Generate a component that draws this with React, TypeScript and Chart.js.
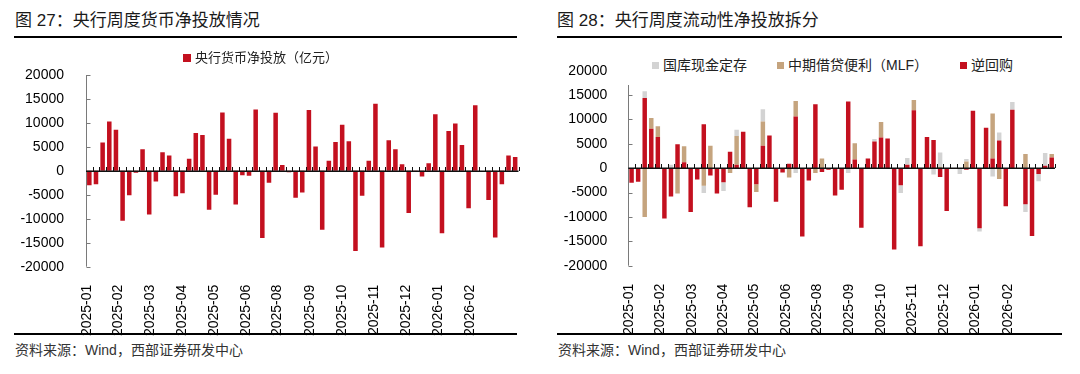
import React, { useEffect, useRef } from 'react';
import { Chart, registerables } from 'chart.js';

Chart.register(...registerables);

// ---------- data ----------
// weekly categories (Fridays from 2025-01-03), 65 weeks
const weekStart = new Date(Date.UTC(2025, 0, 3));
const categories: string[] = Array.from({ length: 65 }, (_, i) => {
  const d = new Date(weekStart.getTime() + i * 7 * 86400000);
  return d.toISOString().slice(0, 10);
});

const tickLabels = ['2025-01', '2025-02', '2025-03', '2025-04', '2025-05', '2025-06', '2025-08', '2025-09', '2025-10', '2025-11', '2025-12', '2026-01', '2026-02'];
// category position (in weeks) of each tick label
const tickAt = [-0.3, 4.4, 9.2, 14.0, 18.7, 23.5, 28.3, 33.2, 38.0, 42.8, 47.6, 52.4, 57.3];

const yTicks = { min: -20000, max: 20000, step: 5000 };

// Chart 27: weekly net injection (亿元)
const netValues = [
  -3000, -2800, 5900, 10300, 8600, -10400, -5100, -400, 4500, -9100,
  -2200, 3900, 3200, -5300, -4700, 2500, 7900, 7500, -8100, -5000,
  12200, 6700, -7000, -900, -1000, 12800, -14000, -2500, 12100, 1200,
  -300, -5600, -4500, 12700, 5100, -12300, 2100, 6000, 9600, 6200,
  -16700, -5200, 2100, 14000, -16000, 6400, 4500, 1400, -8800, -100,
  -1200, 1600, 11800, -13000, 8300, 9900, 5400, -7800, 13700, 0,
  -6100, -13900, -2800, 3200, 2900,
];

// Chart 28: breakdown
const repoValues = [
  -3000, -2800, 14400, 8100, 6400, -10300, -5800, 4900, 1200, -9000,
  -2300, 9000, -1500, -5200, -2900, 3400, 700, 7500, -8000, -3300,
  4600, 6700, -6900, -900, 900, 10600, -14000, -2500, 13100, -800,
  -300, -5600, -4400, 13700, 1800, -12200, 2000, 5500, 6300, 6100,
  -16700, -3500, 700, 11900, -16000, 6400, 5800, -1800, -8800, -100,
  0, -300, 11800, -12300, 8300, 2000, 5700, -7800, 12000, 0,
  -7400, -13900, -1200, 500, 2200,
];
const mlfValues = [
  0, 0, -10000, 2200, 2200, 0, 0, -5200, 3300, 0,
  0, -3600, 4600, 0, 0, -1000, 5900, 0, 0, -1600,
  5000, 0, 0, 0, -1900, 3200, 0, 0, -1000, 2000,
  0, 0, 0, 0, 3300, 0, 0, 0, 3200, 0,
  0, 0, 0, 2100, 0, 0, 0, 300, 0, 0,
  0, 1400, 0, 0, 0, 9200, -2200, 0, 0, 0,
  2900, 0, 0, 0, 700,
];
const depositValues = [
  0, 0, 1400, 0, 0, 0, 700, 0, 0, 0,
  0, -1500, 0, 0, -1800, 0, 1300, 0, 0, 0,
  2500, 0, 0, 0, 0, -1000, 0, 0, 0, 0,
  0, 0, 0, -1000, 0, 0, 0, 500, 0, 0,
  0, -1600, 1400, 0, 0, 0, -1300, 2900, 0, 0,
  -1200, 500, 0, -700, 0, -1700, 1600, 0, 1600, 0,
  -1600, 0, -1500, 2600, 0,
];

const RED = '#C3101F';
const TAN = '#C5A47E';
const GREY = '#D3D3D3';
const FONT = '"Liberation Sans", Arial, "Noto Sans CJK SC", sans-serif';

// ---------- plugin: axis line, inner ticks, zero line with category ticks ----------
const axisDecor = {
  id: 'axisDecor',
  afterDatasetsDraw(chart: any) {
    const { ctx, chartArea: a, scales } = chart;
    const x = scales.x;
    const y = scales.y;
    const y0 = Math.round(y.getPixelForValue(0));
    ctx.save();
    ctx.lineWidth = 1;
    ctx.strokeStyle = '#7a7a7a';
    ctx.beginPath();
    const ax = Math.round(a.left) + 0.5;
    ctx.moveTo(ax, a.top);
    ctx.lineTo(ax, a.bottom);
    for (const t of y.ticks) {
      const py = Math.round(y.getPixelForValue(t.value)) + 0.5;
      ctx.moveTo(ax, py);
      ctx.lineTo(ax + 4, py);
    }
    ctx.stroke();
    ctx.strokeStyle = '#111';
    ctx.beginPath();
    const n = chart.data.labels.length;
    for (let i = 1; i <= n; i++) {
      const px = Math.round(x.getPixelForValue(i - 0.5)) + 0.5;
      ctx.moveTo(px, y0 - 4);
      ctx.lineTo(px, y0);
    }
    ctx.stroke();
    ctx.lineWidth = 1.5;
    ctx.beginPath();
    ctx.moveTo(a.left, y0 + 0.25);
    ctx.lineTo(a.right, y0 + 0.25);
    ctx.stroke();
    ctx.restore();
  },
};

type Area = { left: number; right: number; top: number; bottom: number };

function buildConfig(datasets: any[], area: Area, w: number, h: number, yPad: number, stacked: boolean): any {
  return {
    type: 'bar',
    data: { labels: categories, datasets },
    plugins: [axisDecor],
    options: {
      animation: false,
      responsive: false,
      devicePixelRatio: 1,
      events: [],
      layout: { padding: { left: 0, top: area.top, right: w - area.right, bottom: 0 } },
      plugins: { legend: { display: false }, tooltip: { enabled: false }, title: { display: false } },
      datasets: { bar: { barPercentage: 0.68, categoryPercentage: 1 } },
      scales: {
        x: {
          type: 'category',
          stacked,
          offset: true,
          grid: { display: false },
          border: { display: false },
          afterBuildTicks: (s: any) => {
            s.ticks = tickAt.map((v) => ({ value: v }));
          },
          afterFit: (s: any) => {
            s.height = h - area.bottom;
          },
          ticks: {
            autoSkip: false,
            maxRotation: 90,
            minRotation: 90,
            padding: 10,
            color: '#000',
            font: { family: FONT, size: 14 },
            callback: (_v: any, i: number) => tickLabels[i],
          },
        },
        y: {
          stacked,
          min: yTicks.min,
          max: yTicks.max,
          grid: { display: false },
          border: { display: false },
          afterFit: (s: any) => {
            s.width = area.left;
          },
          ticks: {
            stepSize: yTicks.step,
            padding: yPad,
            color: '#000',
            font: { family: FONT, size: 14 },
            callback: (v: any) => String(v),
          },
        },
      },
    },
  };
}

function ChartCanvas({ config, left, w, h }: { config: () => any; left: number; w: number; h: number }) {
  const ref = useRef<HTMLCanvasElement>(null);
  useEffect(() => {
    const c = new Chart(ref.current as HTMLCanvasElement, config());
    return () => c.destroy();
  }, []);
  return (
    <canvas
      ref={ref}
      width={w}
      height={h}
      style={{ position: 'absolute', left, top: 0, width: w, height: h }}
    />
  );
}

const sq = (color: string, size: number) => (
  <span style={{ display: 'inline-block', width: size, height: size, background: color, marginRight: 4, verticalAlign: 'middle', position: 'relative', top: -1 }} />
);

export default function App() {
  const W = 540;
  const H = 374;
  const leftCfg = () =>
    buildConfig(
      [{ label: '央行货币净投放（亿元）', data: netValues, backgroundColor: RED }],
      { left: 86, right: 518.5, top: 75, bottom: 266.7 },
      W,
      H,
      14,
      false,
    );
  const rightCfg = () =>
    buildConfig(
      [
        { label: '逆回购', data: repoValues, backgroundColor: RED },
        { label: '中期借贷便利（MLF）', data: mlfValues, backgroundColor: TAN },
        { label: '国库现金定存', data: depositValues, backgroundColor: GREY },
      ],
      { left: 88.3, right: 515, top: 70.7, bottom: 265.7 },
      W,
      H,
      13,
      true,
    );

  const titleStyle: React.CSSProperties = {
    position: 'absolute', top: 10, fontSize: 17, lineHeight: '22px', color: '#1a1a1a',
    fontFamily: FONT, fontWeight: 400, whiteSpace: 'nowrap',
  };
  const ruleStyle: React.CSSProperties = { position: 'absolute', height: 2, background: '#000' };
  const srcStyle: React.CSSProperties = {
    position: 'absolute', top: 341, fontSize: 14, lineHeight: '18px', color: '#333',
    fontFamily: FONT, whiteSpace: 'nowrap',
  };
  const legendText: React.CSSProperties = { fontFamily: FONT, color: '#222', whiteSpace: 'nowrap' };

  return (
    <div style={{ position: 'absolute', left: 0, top: 0, width: 1080, height: 374, background: '#fff', overflow: 'hidden' }}>
      <div style={{ ...titleStyle, left: 15 }}>图 27：央行周度货币净投放情况</div>
      <div style={{ ...titleStyle, left: 557 }}>图 28：央行周度流动性净投放拆分</div>
      <div style={{ ...ruleStyle, left: 14, width: 503, top: 36 }} />
      <div style={{ ...ruleStyle, left: 557, width: 505, top: 36 }} />
      <div style={{ ...ruleStyle, left: 14, width: 503, top: 333 }} />
      <div style={{ ...ruleStyle, left: 557, width: 505, top: 333 }} />
      <div style={{ ...srcStyle, left: 15 }}>资料来源：Wind，西部证券研发中心</div>
      <div style={{ ...srcStyle, left: 558 }}>资料来源：Wind，西部证券研发中心</div>

      <ChartCanvas config={leftCfg} left={0} w={W} h={H} />
      <ChartCanvas config={rightCfg} left={540} w={W} h={H} />

      <div style={{ position: 'absolute', left: 183, top: 49, height: 18, lineHeight: '18px', fontSize: 13, ...legendText }}>
        {sq(RED, 8)}央行货币净投放（亿元）
      </div>
      <div style={{ position: 'absolute', left: 623, top: 52, width: 400, height: 33, background: '#fff' }} />
      <div style={{ position: 'absolute', left: 652, top: 56, height: 18, lineHeight: '18px', fontSize: 14, ...legendText }}>
        {sq(GREY, 7)}国库现金定存
      </div>
      <div style={{ position: 'absolute', left: 777, top: 56, height: 18, lineHeight: '18px', fontSize: 14, ...legendText }}>
        {sq(TAN, 7)}中期借贷便利（MLF）
      </div>
      <div style={{ position: 'absolute', left: 960, top: 56, height: 18, lineHeight: '18px', fontSize: 14, ...legendText }}>
        {sq(RED, 7)}逆回购
      </div>
    </div>
  );
}
